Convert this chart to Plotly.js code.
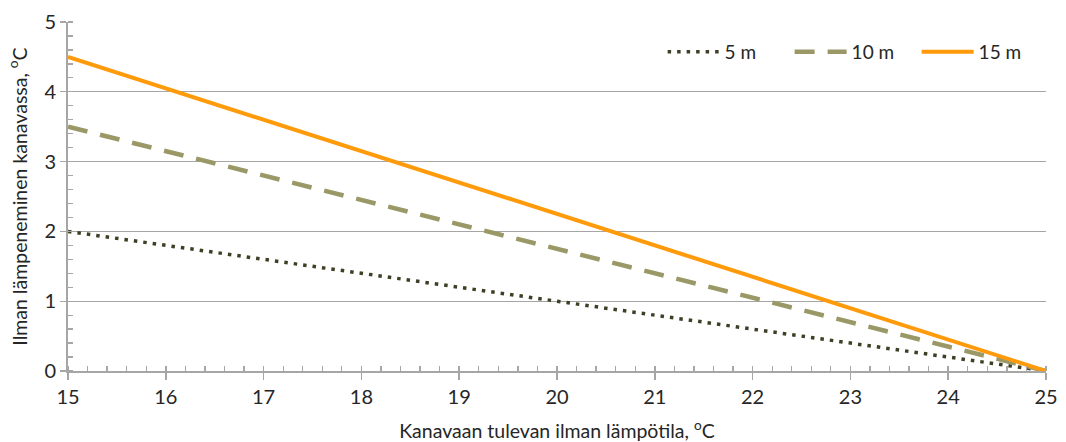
<!DOCTYPE html>
<html>
<head>
<meta charset="utf-8">
<script src="https://cdn.plot.ly/plotly-3.0.1.min.js"></script>
<style>
  html, body { margin: 0; padding: 0; background: #fff; }
  #chart { width: 1066px; height: 442px; }
</style>
</head>
<body>
<div id="chart"></div>
<script>
// Data
const xTemps = [15, 25];                 // Kanavaan tulevan ilman lämpötila, °C
const rise5m = [2.0, 0.0];               // 5 m
const rise10m = [3.5, 0.0];              // 10 m
const rise15m = [4.5, 0.0];              // 15 m
const seriesNames = ['5 m', '10 m', '15 m'];
const xTickVals = [15, 16, 17, 18, 19, 20, 21, 22, 23, 24, 25];
const yTickVals = [0, 1, 2, 3, 4, 5];

const fontFam = 'Lato, "Open Sans", sans-serif';
const textCol = '#262626';
const axisCol = '#a6a6a6';

const traces = [
  { x: xTemps, y: rise5m, name: seriesNames[0], mode: 'lines',
    line: { color: '#3f3f26', width: 3.5, dash: '3.5px,6px' } },
  { x: xTemps, y: rise10m, name: seriesNames[1], mode: 'lines',
    line: { color: '#9b9868', width: 4.5, dash: '20px,13px' } },
  { x: xTemps, y: rise15m, name: seriesNames[2], mode: 'lines',
    line: { color: '#ff9a0a', width: 4 } },
  // invisible trace carrying the inside part of the x axis major ticks
  { x: xTemps, y: rise5m, xaxis: 'x2', mode: 'lines', showlegend: false,
    hoverinfo: 'skip', line: { width: 0 }, opacity: 0 }
];

const layout = {
  width: 1066, height: 442,
  margin: { l: 68, r: 20, t: 22, b: 71, autoexpand: false },
  paper_bgcolor: '#ffffff', plot_bgcolor: '#ffffff',
  font: { family: fontFam, color: textCol, size: 18 },
  showlegend: true,
  legend: {
    orientation: 'h', x: 0.608, xanchor: 'left', y: 0.914, yanchor: 'middle',
    bgcolor: 'rgba(0,0,0,0)', font: { family: fontFam, size: 19, color: textCol },
    itemwidth: 52, entrywidth: 60, traceorder: 'normal'
  },
  xaxis: {
    range: [15, 25], tickvals: xTickVals, showgrid: false, zeroline: false,
    showline: true, linecolor: axisCol, linewidth: 2,
    ticks: 'outside', ticklen: 7, tickwidth: 1.5, tickcolor: axisCol,
    tickfont: { size: 20, color: textCol },
    minor: { dtick: 0.2, ticks: 'inside', ticklen: 5, tickwidth: 1.3, tickcolor: axisCol, showgrid: false },
    title: { text: 'Kanavaan tulevan ilman lämpötila, <sup>o</sup>C', standoff: 18,
             font: { size: 19.5, color: textCol } }
  },
  xaxis2: {
    overlaying: 'x', matches: 'x', range: [15, 25], tickvals: xTickVals,
    showticklabels: false, showgrid: false, zeroline: false, showline: false,
    ticks: 'inside', ticklen: 5, tickwidth: 1.5, tickcolor: axisCol, side: 'bottom'
  },
  yaxis: {
    range: [0, 5], tickvals: yTickVals, showgrid: true, gridcolor: axisCol, gridwidth: 1.3,
    zeroline: false, showline: true, linecolor: axisCol, linewidth: 2,
    ticks: 'outside', ticklen: 6, tickwidth: 1.3, tickcolor: axisCol,
    tickfont: { size: 20, color: textCol },
    minor: { dtick: 0.2, ticks: 'inside', ticklen: 5, tickwidth: 1.3, tickcolor: axisCol, showgrid: false },
    title: { text: 'Ilman lämpeneminen kanavassa, <sup>o</sup>C', standoff: 12,
             font: { size: 19.5, color: textCol } }
  }
};

Plotly.newPlot('chart', traces, layout, { displayModeBar: false, staticPlot: true });
</script>
</body>
</html>
